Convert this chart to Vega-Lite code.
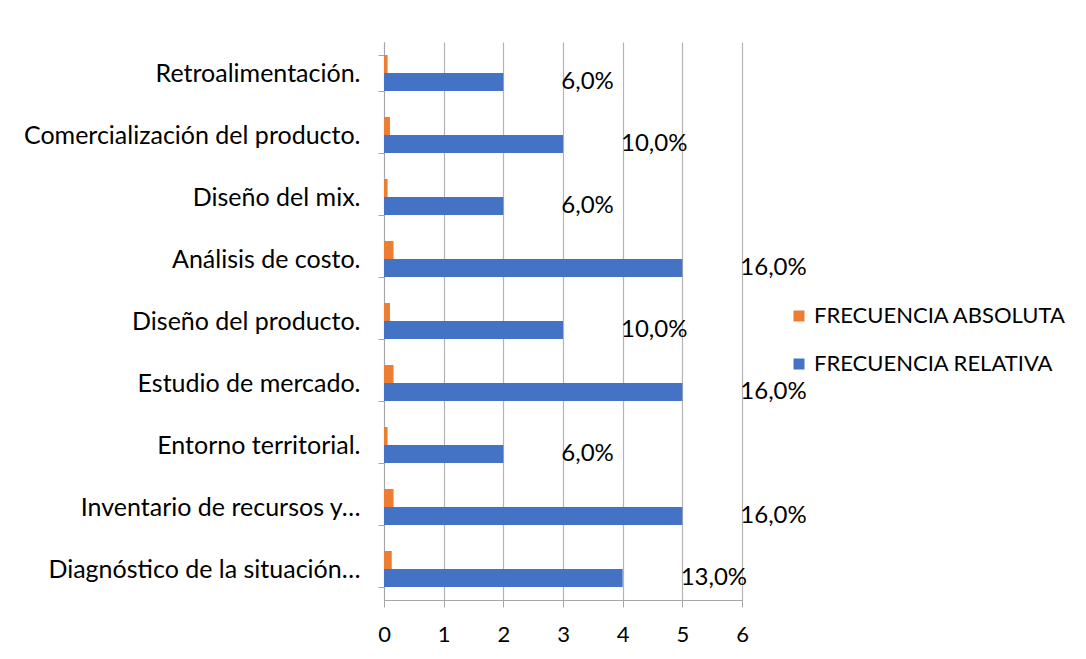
{
  "$schema": "https://vega.github.io/schema/vega-lite/v6.json",
  "width": 358,
  "height": 558,
  "autosize": "none",
  "padding": {"left": 384, "top": 42, "right": 344, "bottom": 59},
  "background": "white",
  "config": {
    "font": "Lato",
    "view": {"stroke": null},
    "locale": {"number": {"decimal": ",", "thousands": ".", "grouping": [3], "currency": ["", " €"]}}
  },
  "data": {
    "values": [
      {"cat": "Retroalimentación.", "abs": 0.06, "rel": 2},
      {"cat": "Comercialización del producto.", "abs": 0.10, "rel": 3},
      {"cat": "Diseño del mix.", "abs": 0.06, "rel": 2},
      {"cat": "Análisis de costo.", "abs": 0.16, "rel": 5},
      {"cat": "Diseño del producto.", "abs": 0.10, "rel": 3},
      {"cat": "Estudio de mercado.", "abs": 0.16, "rel": 5},
      {"cat": "Entorno territorial.", "abs": 0.06, "rel": 2},
      {"cat": "Inventario de recursos y…", "abs": 0.16, "rel": 5},
      {"cat": "Diagnóstico de la situación…", "abs": 0.13, "rel": 4}
    ]
  },
  "encoding": {
    "y": {
      "field": "cat",
      "type": "nominal",
      "sort": null,
      "title": null,
      "scale": {"paddingInner": 0.42, "paddingOuter": 0.21},
      "axis": {
        "tickBand": "extent",
        "tickSize": 6,
        "labelPadding": 18,
        "labelFontSize": 25,
        "labelColor": "#000000",
        "labelLimit": 500,
        "domainColor": "#a6a6a6",
        "tickColor": "#a6a6a6",
        "grid": false
      }
    }
  },
  "layer": [
    {
      "transform": [
        {"fold": ["abs", "rel"], "as": ["key", "value"]},
        {"calculate": "datum.key === 'abs' ? 'FRECUENCIA ABSOLUTA' : 'FRECUENCIA RELATIVA'", "as": "serie"}
      ],
      "mark": {"type": "bar"},
      "encoding": {
        "x": {
          "field": "value",
          "type": "quantitative",
          "title": null,
          "scale": {"domain": [0, 6]},
          "axis": {
            "values": [0, 1, 2, 3, 4, 5, 6],
            "format": "d",
            "tickSize": 7,
            "labelPadding": 17,
            "labelFontSize": 22,
            "labelColor": "#000000",
            "domainColor": "#a6a6a6",
            "tickColor": "#a6a6a6",
            "gridColor": "#b4b4b4",
            "gridWidth": 1.2,
            "labelFlush": false
          }
        },
        "yOffset": {"field": "serie", "type": "nominal", "scale": {"domain": ["FRECUENCIA ABSOLUTA", "FRECUENCIA RELATIVA"]}},
        "color": {
          "field": "serie",
          "type": "nominal",
          "scale": {"domain": ["FRECUENCIA ABSOLUTA", "FRECUENCIA RELATIVA"], "range": ["#ED7D31", "#4472C4"]},
          "legend": {
            "title": null,
            "orient": "none",
            "legendX": 404,
            "legendY": 263,
            "symbolType": "square",
            "symbolSize": 121,
            "symbolStrokeWidth": 0,
            "labelFontSize": 22,
            "labelColor": "#000000",
            "labelLimit": 500,
            "rowPadding": 26,
            "labelOffset": 4
          }
        }
      }
    },
    {
      "mark": {"type": "text", "align": "left", "baseline": "middle", "dx": 58, "dy": 9, "fontSize": 24, "color": "#000000"},
      "encoding": {
        "x": {"field": "rel", "type": "quantitative"},
        "text": {"field": "abs", "type": "quantitative", "format": ".1%"}
      }
    }
  ]
}
